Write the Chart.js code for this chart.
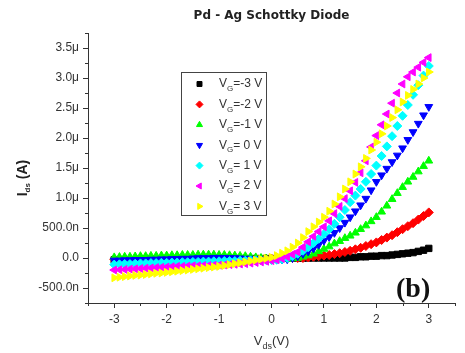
<!DOCTYPE html>
<html><head><meta charset="utf-8">
<script src="https://cdn.jsdelivr.net/npm/chart.js@4.4.0/dist/chart.umd.min.js"></script>
<style>html,body{margin:0;padding:0;background:#fff}#wrap{width:465px;height:353px}</style>
</head><body><div id="wrap"><canvas id="c" width="465" height="353"></canvas></div>
<script>
// Drain voltage V_ds (V)
const voltages = [
  -3.0,-2.9,-2.8,-2.7,-2.6,-2.5,-2.4,-2.3,-2.2,-2.1,
  -2.0,-1.9,-1.8,-1.7,-1.6,-1.5,-1.4,-1.3,-1.2,-1.1,
  -1.0,-0.9,-0.8,-0.7,-0.6,-0.5,-0.4,-0.3,-0.2,-0.1,
  0.0,0.1,0.2,0.3,0.4,0.5,0.6,0.7,0.8,0.9,
  1.0,1.1,1.2,1.3,1.4,1.5,1.6,1.7,1.8,1.9,
  2.0,2.1,2.2,2.3,2.4,2.5,2.6,2.7,2.8,2.9,
  3.0
];
// Drain current I_ds in microamps, one array per gate voltage
const ids_vgm3 = [
  -0.03,-0.03,-0.03,-0.03,-0.03,-0.02,-0.02,-0.02,-0.02,-0.02,
  -0.02,-0.02,-0.02,-0.02,-0.02,-0.02,-0.01,-0.01,-0.01,-0.01,
  -0.01,-0.01,-0.01,-0.01,-0.01,-0.01,-0.01,-0.01,-0.01,-0.01,
  -0.01,-0.01,0,0,0,0,0,0,0,0,
  0,0,0,0,0,0.01,0.01,0.02,0.02,0.03,
  0.03,0.04,0.04,0.05,0.06,0.07,0.08,0.09,0.11,0.13,
  0.16
];
const ids_vgm2 = [
  -0.02,-0.02,-0.02,-0.02,-0.02,-0.02,-0.02,-0.02,-0.02,-0.02,
  -0.02,-0.02,-0.02,-0.02,-0.02,-0.015,-0.015,-0.015,-0.015,-0.015,
  -0.01,-0.01,-0.01,-0.01,-0.01,-0.01,-0.01,-0.01,-0.01,-0.01,
  -0.01,-0.01,-0.01,0,0,0,0,0.01,0.02,0.03,
  0.04,0.05,0.065,0.08,0.1,0.12,0.145,0.17,0.2,0.23,
  0.26,0.3,0.34,0.38,0.43,0.48,0.53,0.58,0.64,0.7,
  0.76
];
const ids_vgm1 = [
  0.01,0.015,0.02,0.02,0.025,0.03,0.03,0.035,0.035,0.04,
  0.04,0.045,0.045,0.05,0.05,0.05,0.055,0.055,0.055,0.055,
  0.05,0.05,0.045,0.04,0.035,0.03,0.02,0.01,0.0,-0.01,
  -0.02,-0.02,-0.02,-0.02,-0.01,0.0,0.02,0.04,0.07,0.11,
  0.15,0.19,0.24,0.28,0.33,0.37,0.42,0.48,0.54,0.61,
  0.68,0.77,0.87,0.98,1.08,1.18,1.27,1.35,1.44,1.53,
  1.62
];
const ids_vg0 = [
  -0.04,-0.04,-0.035,-0.035,-0.03,-0.03,-0.03,-0.025,-0.025,-0.02,
  -0.02,-0.015,-0.015,-0.01,-0.01,-0.005,0.0,0.0,0.0,0.005,
  0.005,0.005,0.0,0.0,-0.005,-0.01,-0.01,-0.015,-0.02,-0.02,
  -0.025,-0.025,-0.025,-0.02,0.0,0.03,0.07,0.11,0.16,0.22,
  0.29,0.35,0.42,0.5,0.59,0.68,0.78,0.88,0.99,1.13,
  1.27,1.38,1.49,1.6,1.71,1.83,1.97,2.1,2.24,2.38,
  2.52
];
const ids_vgp1 = [
  -0.11,-0.105,-0.1,-0.1,-0.095,-0.09,-0.09,-0.085,-0.085,-0.08,
  -0.08,-0.075,-0.075,-0.07,-0.07,-0.065,-0.065,-0.06,-0.06,-0.055,
  -0.055,-0.05,-0.05,-0.05,-0.045,-0.045,-0.04,-0.04,-0.04,-0.035,
  -0.035,-0.03,-0.02,0.0,0.03,0.07,0.12,0.18,0.25,0.32,
  0.4,0.48,0.57,0.68,0.8,0.93,1.04,1.15,1.27,1.4,
  1.54,1.7,1.86,2.03,2.2,2.37,2.55,2.72,2.88,3.04,
  3.2
];
const ids_vgp2 = [
  -0.2,-0.195,-0.19,-0.185,-0.18,-0.175,-0.17,-0.165,-0.16,-0.155,
  -0.15,-0.145,-0.14,-0.14,-0.135,-0.13,-0.13,-0.125,-0.125,-0.12,
  -0.12,-0.115,-0.11,-0.105,-0.1,-0.095,-0.085,-0.075,-0.065,-0.055,
  -0.045,-0.03,-0.01,0.02,0.06,0.1,0.18,0.27,0.36,0.44,
  0.52,0.62,0.74,0.86,0.99,1.12,1.26,1.42,1.62,1.85,
  2.04,2.22,2.4,2.58,2.75,2.9,3.02,3.1,3.18,3.26,
  3.34
];
const ids_vgp3 = [
  -0.33,-0.32,-0.31,-0.3,-0.29,-0.285,-0.275,-0.265,-0.255,-0.25,
  -0.24,-0.23,-0.22,-0.21,-0.2,-0.19,-0.18,-0.17,-0.16,-0.15,
  -0.14,-0.125,-0.11,-0.095,-0.08,-0.065,-0.05,-0.035,-0.02,-0.005,
  0.01,0.04,0.08,0.12,0.18,0.25,0.34,0.44,0.52,0.6,
  0.68,0.78,0.9,1.02,1.15,1.27,1.4,1.52,1.66,1.8,
  1.93,2.07,2.2,2.34,2.47,2.6,2.71,2.81,2.9,3.0,
  3.1
];
const seriesLabels = ['VG=-3 V','VG=-2 V','VG=-1 V','VG= 0 V','VG= 1 V','VG= 2 V','VG= 3 V'];
const seriesValues = [ids_vgm3, ids_vgm2, ids_vgm1, ids_vg0, ids_vgp1, ids_vgp2, ids_vgp3];
const yTickValues = [-0.5,0,0.5,1.0,1.5,2.0,2.5,3.0,3.5];
const xTickValues = [-3,-2,-1,0,1,2,3];

const colors = ['#000000','#ff0000','#00ff00','#0000ff','#00ffff','#ff00ff','#ffff00'];
const shapes = ['rect','rectRot','triangle','triangle','rectRot','triangle','triangle'];
const rotations = [0,0,0,180,0,-90,90];

const datasets = seriesValues.map((arr, i) => ({
  label: seriesLabels[i],
  data: voltages.map((v, k) => ({x: v, y: arr[k]})),
  backgroundColor: colors[i],
  borderColor: colors[i],
  pointStyle: shapes[i],
  rotation: rotations[i],
  pointRadius: 4.5,
  borderWidth: 1,
  showLine: false,
  order: seriesValues.length - i
}));

function fmtY(v){
  if (Math.abs(v) < 1e-9) return '0.0';
  if (Math.abs(v) < 1) return (v*1000).toFixed(1) + 'n';
  return v.toFixed(1) + '\u03bc';
}

const extras = {
  id: 'extras',
  afterDraw(chart){
    const ctx = chart.ctx, ca = chart.chartArea;
    const xs = chart.scales.x, ys = chart.scales.y;
    ctx.save();
    // minor ticks
    ctx.strokeStyle = '#333'; ctx.lineWidth = 1;
    for (let v = ys.min + 0; v <= ys.max + 1e-9; v += 0.25) {
      if (Math.abs(v*2 - Math.round(v*2)) < 1e-6) continue;
      const y = Math.round(ys.getPixelForValue(v)) + 0.5;
      ctx.beginPath(); ctx.moveTo(ca.left - 3, y); ctx.lineTo(ca.left, y); ctx.stroke();
    }
    for (let v = xs.min; v <= xs.max + 1e-9; v += 0.5) {
      if (Math.abs(v - Math.round(v)) < 1e-6) continue;
      const x = Math.round(xs.getPixelForValue(v)) + 0.5;
      ctx.beginPath(); ctx.moveTo(x, ca.bottom); ctx.lineTo(x, ca.bottom + 3); ctx.stroke();
    }
    // legend
    ctx.strokeStyle = '#444'; ctx.lineWidth = 1;
    ctx.strokeRect(181.5, 72.5, 85, 143);
    seriesLabels.forEach((lab, i) => {
      const y = 84 + i * 20.4;
      ctx.fillStyle = colors[i]; ctx.strokeStyle = colors[i];
      Chart.helpers.drawPoint(ctx, {pointStyle: shapes[i], radius: 3.5, rotation: rotations[i], borderWidth: 1}, 199.5, y);
      ctx.fillStyle = '#333';
      ctx.textBaseline = 'middle'; ctx.textAlign = 'left';
      ctx.font = '12px "Liberation Sans", Arial, sans-serif';
      let x = 219;
      ctx.fillText('V', x, y); x += ctx.measureText('V').width;
      ctx.font = '8px "Liberation Sans", Arial, sans-serif';
      ctx.fillText('G', x, y + 5); x += ctx.measureText('G').width;
      ctx.font = '12px "Liberation Sans", Arial, sans-serif';
      ctx.fillText(lab.slice(2), x, y);
    });
    // y title
    ctx.save();
    ctx.translate(27, 178); ctx.rotate(-Math.PI/2);
    ctx.fillStyle = '#222'; ctx.textBaseline = 'alphabetic'; ctx.textAlign = 'left';
    const f1 = 'bold 14px "Liberation Sans", Arial, sans-serif', f2 = 'bold 8px "Liberation Sans", Arial, sans-serif';
    ctx.font = f1; const w1 = ctx.measureText('I').width, w3 = ctx.measureText(' (A)').width;
    ctx.font = f2; const w2 = ctx.measureText('ds').width;
    let tx = -(w1 + w2 + w3) / 2;
    ctx.font = f1; ctx.fillText('I', tx, 0); tx += w1;
    ctx.font = f2; ctx.fillText('ds', tx, 3); tx += w2;
    ctx.font = f1; ctx.fillText(' (A)', tx, 0);
    ctx.restore();
    // x title
    ctx.fillStyle = '#333'; ctx.textBaseline = 'alphabetic'; ctx.textAlign = 'left';
    const g1 = '13px "Liberation Sans", Arial, sans-serif', g2 = '9px "Liberation Sans", Arial, sans-serif';
    ctx.font = g1; const a1 = ctx.measureText('V').width, a3 = ctx.measureText('(V)').width;
    ctx.font = g2; const a2 = ctx.measureText('ds').width;
    let sx = (ca.left + ca.right) / 2 - (a1 + a2 + a3) / 2;
    ctx.font = g1; ctx.fillText('V', sx, 345); sx += a1;
    ctx.font = g2; ctx.fillText('ds', sx, 349); sx += a2;
    ctx.font = g1; ctx.fillText('(V)', sx, 345);
    // panel label
    ctx.fillStyle = '#111';
    ctx.font = 'bold 28px "Liberation Serif", "Times New Roman", serif';
    ctx.fillText('(b)', 396, 297);
    ctx.restore();
  }
};

new Chart(document.getElementById('c'), {
  type: 'scatter',
  data: { datasets },
  options: {
    responsive: false, animation: false, devicePixelRatio: 1, events: [],
    layout: { padding: { top: 0, right: 10, bottom: 0, left: 0 } },
    plugins: {
      legend: { display: false }, tooltip: { enabled: false },
      title: { display: true, fullSize: false, text: 'Pd - Ag Schottky Diode', color: '#222',
        font: { family: '"DejaVu Sans", sans-serif', size: 12, weight: 'bold' },
        padding: { top: 9, bottom: 9.6 } }
    },
    scales: {
      x: {
        type: 'linear', min: -3.5, max: 3.5,
        afterFit: s => { s.height = 50; },
        afterBuildTicks: s => { s.ticks = xTickValues.map(v => ({value: v})); },
        ticks: { stepSize: 1, color: '#333', padding: 4, autoSkip: false, maxRotation: 0,
          font: { family: '"Liberation Sans", Arial, sans-serif', size: 12 },
          callback: v => String(v) },
        grid: { drawOnChartArea: false, drawTicks: true, tickLength: 5, color: '#333' },
        border: { display: true, color: '#333', width: 1 }
      },
      y: {
        type: 'linear', min: -0.75, max: 3.75,
        afterFit: s => { s.width = 88; },
        afterBuildTicks: s => { s.ticks = yTickValues.map(v => ({value: v})); },
        ticks: { stepSize: 0.5, color: '#333', padding: 4, autoSkip: false,
          font: { family: '"Liberation Sans", Arial, sans-serif', size: 12 },
          callback: v => fmtY(v) },
        grid: { drawOnChartArea: false, drawTicks: true, tickLength: 5, color: '#333' },
        border: { display: true, color: '#333', width: 1 }
      }
    }
  },
  plugins: [extras]
});
</script></body></html>
